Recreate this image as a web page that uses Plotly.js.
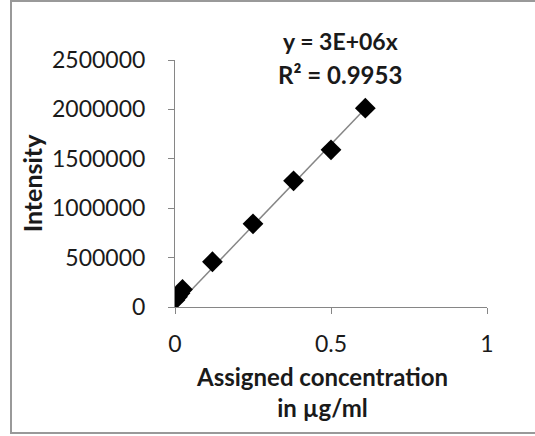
<!DOCTYPE html>
<html>
<head>
<meta charset="utf-8">
<script src="https://cdn.plot.ly/plotly-3.0.1.min.js"></script>
<style>
  html, body { margin: 0; padding: 0; background: #fff; }
  #wrap { position: relative; width: 535px; height: 436px; }
  #chart { position: absolute; left: 0; top: 0; width: 535px; height: 436px; }
  #frame { position: absolute; left: 10px; top: 0px; width: 530px; height: 434px;
           border: 2px solid #999999; border-right: none; box-sizing: border-box; pointer-events: none; }
</style>
</head>
<body>
<div id="wrap">
  <div id="chart"></div>
  <div id="frame"></div>
</div>
<script>
// Data
const concentration = [0, 0.008, 0.016, 0.024, 0.12, 0.25, 0.38, 0.5, 0.61];
const intensity = [72000, 105000, 140000, 178000, 458000, 842000, 1277000, 1591000, 2012000];
const xTickVals = [0, 0.5, 1];
const xTickText = ["0", "0.5", "1"];
const yTickVals = [0, 500000, 1000000, 1500000, 2000000, 2500000];
const yTickText = ["0", "500000", "1000000", "1500000", "2000000", "2500000"];
const equationText = "y = 3E+06x";
const r2Text = "R² = 0.9953";
const xTitleText = "Assigned concentration<br>in µg/ml";
const yTitleText = "Intensity";

// Linear trendline through the origin (least squares), as in the spreadsheet
let sxy = 0, sxx = 0;
for (let i = 0; i < concentration.length; i++) {
  sxy += concentration[i] * intensity[i];
  sxx += concentration[i] * concentration[i];
}
const slope = sxy / sxx;
const xMax = Math.max.apply(null, concentration);
const trendX = [0, xMax];
const trendY = trendX.map(v => slope * v);

const FONT = "Lato, 'Open Sans', sans-serif";
const grey = "#868686";
const ink = "#1a1a1a";

const traces = [
  {
    x: trendX, y: trendY, type: "scatter", mode: "lines",
    line: { color: grey, width: 1.5 }, hoverinfo: "skip", showlegend: false
  },
  {
    x: concentration, y: intensity, type: "scatter", mode: "markers",
    marker: { symbol: "diamond", size: 16, color: "#000000" }, showlegend: false
  }
];

const layout = {
  width: 535, height: 436,
  margin: { l: 175, r: 48, t: 60, b: 129, pad: 0 },
  paper_bgcolor: "#ffffff", plot_bgcolor: "#ffffff",
  font: { family: FONT, size: 22, color: ink },
  showlegend: false,
  xaxis: {
    range: [0, 1], tickvals: xTickVals, ticktext: xTickText,
    showgrid: false, zeroline: false, showline: true, linecolor: grey, linewidth: 1,
    ticks: "outside", ticklen: 6, tickcolor: grey, tickwidth: 1,
    ticklabelstandoff: 10,
    tickfont: { family: FONT, size: 23, color: ink }
  },
  yaxis: {
    range: [0, 2500000], tickvals: yTickVals, ticktext: yTickText,
    showgrid: false, zeroline: false, showline: true, linecolor: grey, linewidth: 1,
    ticks: "outside", ticklen: 6, tickcolor: grey, tickwidth: 1,
    ticklabelstandoff: 18,
    tickfont: { family: FONT, size: 23, color: ink }
  },
  annotations: [
    { text: equationText, xref: "paper", yref: "paper", x: 0.53, y: 1.075,
      xanchor: "center", yanchor: "middle", showarrow: false,
      font: { family: FONT, size: 23, color: ink, weight: "bold" } },
    { text: r2Text, xref: "paper", yref: "paper", x: 0.53, y: 0.94,
      xanchor: "center", yanchor: "middle", showarrow: false,
      font: { family: FONT, size: 24, color: ink, weight: "bold" } },
    { text: xTitleText, xref: "paper", yref: "paper", x: 0.471, y: -0.345,
      xanchor: "center", yanchor: "middle", showarrow: false,
      font: { family: FONT, size: 24, color: ink, weight: "bold" } },
    { text: yTitleText, xref: "paper", yref: "paper", x: -0.459, y: 0.5,
      xanchor: "center", yanchor: "middle", showarrow: false, textangle: -90,
      font: { family: FONT, size: 25, color: ink, weight: "bold" } }
  ]
};

Plotly.newPlot("chart", traces, layout, { displayModeBar: false, staticPlot: true });
</script>
</body>
</html>
